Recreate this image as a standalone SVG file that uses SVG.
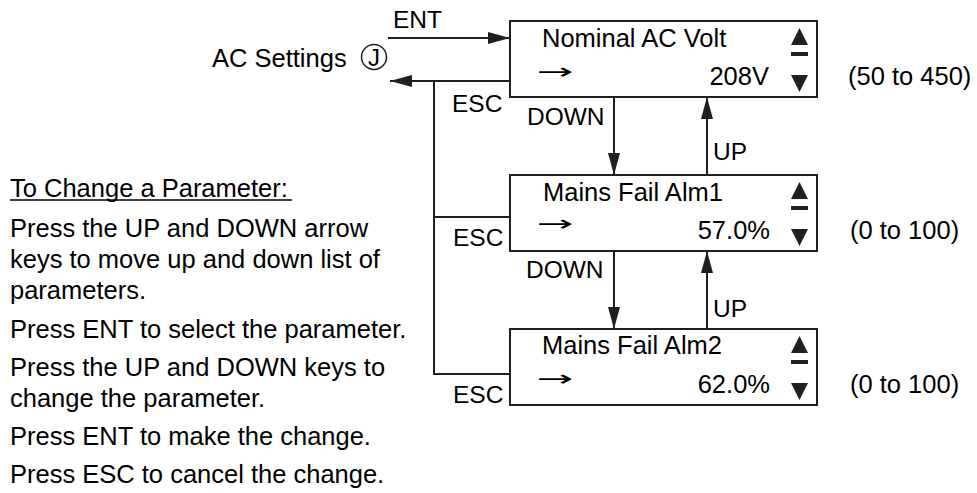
<svg xmlns="http://www.w3.org/2000/svg" width="977" height="493" viewBox="0 0 977 493">
<style>
text{font-family:"Liberation Sans",Arial,sans-serif;fill:#000;}
.t{font-size:25.5px;}
.l{font-size:24.5px;}
.box{fill:#fff;stroke:#231f20;stroke-width:2;}
.ln{fill:none;stroke:#231f20;stroke-width:2;}
.tri{fill:#231f20;}
.arr{font-family:"DejaVu Sans",sans-serif;font-size:22px;}
</style>
<defs>
<marker id="ah" markerUnits="userSpaceOnUse" markerWidth="22" markerHeight="12" refX="22" refY="6" orient="auto" viewBox="0 0 22 12">
<path d="M0,0 L22,6 L0,12 z" fill="#231f20"/>
</marker>
</defs>

<g id="intro">
<text class="t" x="212" y="67">AC Settings</text>
<circle cx="374" cy="57" r="12.5" fill="none" stroke="#231f20" stroke-width="1.5"/>
<text x="374" y="66" font-size="24" text-anchor="middle">J</text>
</g>

<g id="instructions" class="t">
<text x="10" y="197">To Change a Parameter:</text>
<line x1="10" y1="200" x2="292" y2="200" stroke="#000" stroke-width="1.6"/>
<text x="10" y="237">Press the UP and DOWN arrow</text>
<text x="10" y="268">keys to move up and down list of</text>
<text x="10" y="299">parameters.</text>
<text x="10" y="338">Press ENT to select the parameter.</text>
<text x="10" y="376">Press the UP and DOWN keys to</text>
<text x="10" y="407">change the parameter.</text>
<text x="10" y="445">Press ENT to make the change.</text>
<text x="10" y="483">Press ESC to cancel the change.</text>
</g>

<g id="connectors">
<line class="ln" x1="388" y1="38" x2="510" y2="38" marker-end="url(#ah)"/>
<line class="ln" x1="510" y1="81" x2="390" y2="81" marker-end="url(#ah)"/>
<polyline class="ln" points="434,81 434,374 510,374"/>
<line class="ln" x1="434" y1="217" x2="510" y2="217"/>
<line class="ln" x1="614" y1="97" x2="614" y2="175" marker-end="url(#ah)"/>
<line class="ln" x1="707" y1="175" x2="707" y2="97" marker-end="url(#ah)"/>
<line class="ln" x1="614" y1="251" x2="614" y2="329" marker-end="url(#ah)"/>
<line class="ln" x1="707" y1="329" x2="707" y2="251" marker-end="url(#ah)"/>
<text class="l" x="393" y="28">ENT</text>
<text class="l" x="452" y="112">ESC</text>
<text class="l" x="453" y="246">ESC</text>
<text class="l" x="453" y="403">ESC</text>
<text class="l" x="527" y="125">DOWN</text>
<text class="l" x="526" y="278">DOWN</text>
<text class="l" x="713" y="160">UP</text>
<text class="l" x="713" y="317">UP</text>
</g>

<g id="node-nominal">
<rect class="box" x="510" y="21" width="307" height="76"/>
<text class="t" x="542" y="47">Nominal AC Volt</text>
<text class="arr" transform="translate(537,79) scale(2,1)">→</text>
<text class="t" x="769" y="85" text-anchor="end">208V</text>
<path class="tri" d="M799.5,28 L808,45 L791,45 z"/>
<rect class="tri" x="791" y="52" width="17" height="4"/>
<path class="tri" d="M791,75 L808,75 L799.5,92 z"/>
<text class="t" x="848" y="85">(50 to 450)</text>
</g>

<g id="node-alm1">
<rect class="box" x="510" y="175" width="307" height="76"/>
<text class="t" x="543" y="201">Mains Fail Alm1</text>
<text class="arr" transform="translate(537,231) scale(2,1)">→</text>
<text class="t" x="770" y="239" text-anchor="end">57.0%</text>
<path class="tri" d="M799.5,182 L808,199 L791,199 z"/>
<rect class="tri" x="791" y="206" width="17" height="4"/>
<path class="tri" d="M791,229 L808,229 L799.5,246 z"/>
<text class="t" x="850" y="239">(0 to 100)</text>
</g>

<g id="node-alm2">
<rect class="box" x="510" y="329" width="307" height="76"/>
<text class="t" x="542" y="354">Mains Fail Alm2</text>
<text class="arr" transform="translate(537,386) scale(2,1)">→</text>
<text class="t" x="770" y="393" text-anchor="end">62.0%</text>
<path class="tri" d="M799.5,336 L808,353 L791,353 z"/>
<rect class="tri" x="791" y="360" width="17" height="4"/>
<path class="tri" d="M791,383 L808,383 L799.5,400 z"/>
<text class="t" x="850" y="393">(0 to 100)</text>
</g>
</svg>
